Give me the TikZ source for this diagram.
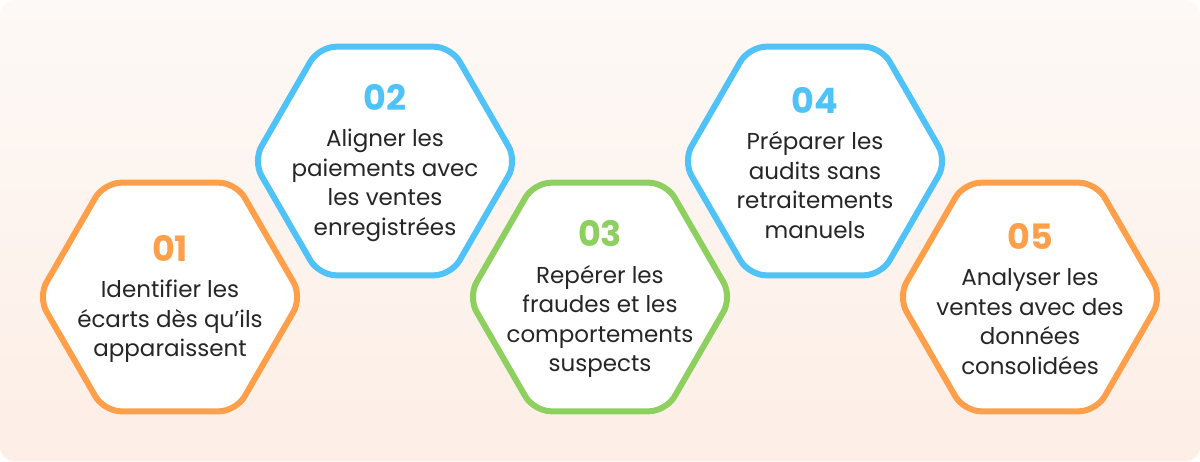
\documentclass[tikz,border=0pt]{standalone}
\usepackage{fontspec}
\setmainfont{Poppins}
\usepackage{tikz}
\definecolor{bgtop}{RGB}{253,249,246}
\definecolor{bgbottom}{RGB}{253,238,230}
\definecolor{steporange}{RGB}{255,159,74}
\definecolor{stepblue}{RGB}{79,195,247}
\definecolor{stepgreen}{RGB}{141,208,95}
\definecolor{textdark}{RGB}{38,38,38}

\tikzset{
  hexline/.style={line width=6pt, fill=white, rounded corners=17pt, line join=round},
  desc/.style={align=center, text=textdark, inner sep=0pt,
    font=\fontsize{23}{29.5}\selectfont},
}
\newcommand{\stepnum}[2]{{\color{#1}\bfseries\fontsize{35}{35}\selectfont #2}}

\begin{document}
\begin{tikzpicture}[x=1pt, y=-1pt]
    % Page and soft background
    \useasboundingbox (0,0) rectangle (1200,461);
    \shade[top color=bgtop, bottom color=bgbottom, rounded corners=14pt] (0,0) rectangle (1200,461);

    % Five hexagons, alternating low and high
    \foreach \i/\cx/\cy/\col/\txt in {
        01/170/297/steporange/{Identifier les\\écarts dès qu’ils\\apparaissent},
        02/385/161/stepblue/{Aligner les\\paiements avec\\les ventes\\enregistrées},
        03/600/297/stepgreen/{Repérer les\\fraudes et les\\comportements\\suspects},
        04/815/161/stepblue/{Préparer les\\audits sans\\retraitements\\manuels},
        05/1030/297/steporange/{Analyser les\\ventes avec des\\données\\consolidées}}
    {
        \coordinate (c\i) at (\cx,\cy);
        % Hexagon outline
        \draw[hexline, draw=\col] (c\i) ++(132,0) -- ++(-66,114.3) -- ++(-132,0)
            -- ++(-66,-114.3) -- ++(66,-114.3) -- ++(132,0) -- cycle;
        % Number and description
        \node[desc] (t\i) at ([yshift=-2pt]c\i) {\stepnum{\col}{\i}\\[7pt]\txt};
    }
\end{tikzpicture}
\end{document}
